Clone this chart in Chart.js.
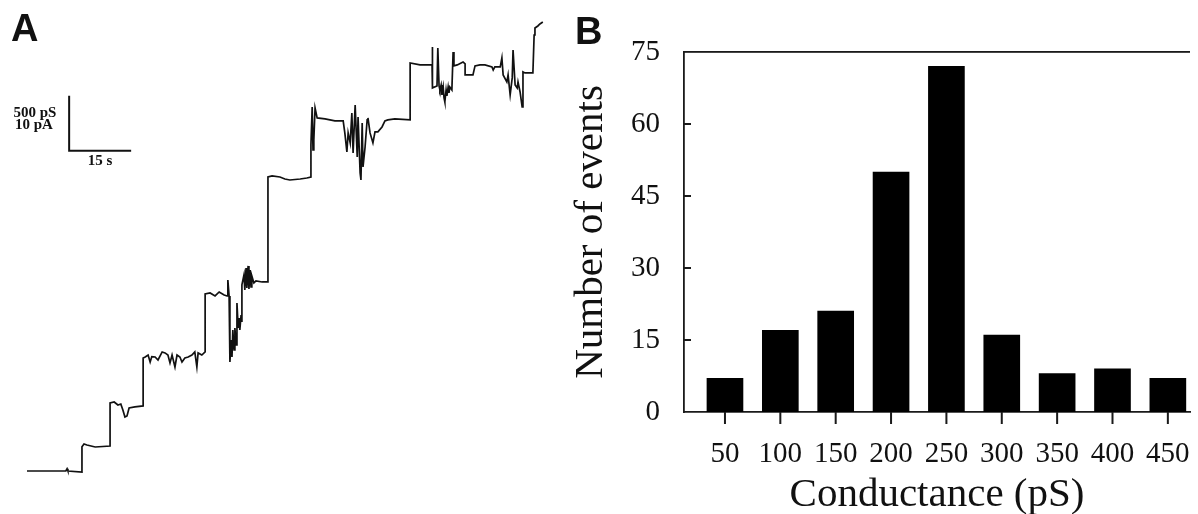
<!DOCTYPE html>
<html>
<head>
<meta charset="utf-8">
<script src="https://cdn.jsdelivr.net/npm/chart.js@4"></script>
<style>
  body { margin: 0; background: #fff; width: 1198px; height: 514px; position: relative; overflow: hidden; }
  canvas { position: absolute; top: 0; }
  #traceChart { left: 0; }
  #histChart { left: 560px; }
  .panel { position: absolute; font: bold 38px "Liberation Sans", Arial, sans-serif; line-height: 38px; color: #111; }
  .bar-label { position: absolute; font: bold 15px "Liberation Serif", serif; line-height: 15px; width: 60px; text-align: center; color: #111; }
</style>
</head>
<body>
<canvas id="traceChart" width="560" height="514"></canvas>
<canvas id="histChart" width="638" height="514"></canvas>
<div class="panel" style="left:11px;top:9px">A</div>
<div class="panel" style="left:575px;top:12px">B</div>
<div class="bar-label" style="left:5px;top:105px">500 pS</div>
<div class="bar-label" style="left:4px;top:117px">10 pA</div>
<div class="bar-label" style="left:70px;top:153px">15 s</div>

<script>
// Panel A: conductance trace (time in s, conductance in pS)
const traceTime = [
  0, 9.4, 9.7, 9.9, 13.3, 13.3, 13.8, 14.5, 16.5, 20.1, 20.1, 21.1, 22.0, 22.7, 23.2, 23.7, 24.2, 24.7, 26.1, 28.1,
  28.1, 28.6, 29.3, 29.8, 30.2, 31.0, 31.7, 32.7, 33.4, 34.1, 34.6, 35.1, 35.8, 36.3, 37.0, 37.5, 38.2, 39.0, 39.9, 40.6, 41.1, 41.4, 42.3, 43.1,
  43.1, 44.3, 45.5, 46.5, 47.7, 48.4, 48.6, 48.9, 49.1, 49.4, 49.6, 49.8, 50.1, 50.3, 50.6, 50.8, 51.1, 51.3, 51.5, 51.8, 52.0,
  52.0, 52.5, 52.7, 53.0, 53.2, 53.5, 53.7, 54.0, 54.2, 54.4, 54.9, 55.4, 56.9, 58.3,
  58.3, 59.3, 61.2, 62.4, 63.6, 66.1, 67.7, 68.7,
  68.7, 69.0, 69.2, 69.4, 69.7, 70.2, 72.1, 74.5, 76.5,
  76.9, 77.4, 77.7, 78.2, 78.6, 78.9, 79.4, 79.9, 80.1, 80.6, 80.8, 81.1, 81.3, 81.8, 82.3, 82.5, 83.0, 83.7, 84.2, 84.9, 85.9, 86.6, 87.3, 89.0, 92.7,
  92.7, 95.1, 98.0, 98.0, 98.2, 99.2, 99.4, 99.7, 99.9, 100.2, 100.4, 100.7, 100.9, 101.1, 101.4, 101.6, 101.9, 102.1, 102.3, 102.8,
  103.1, 103.3, 104.1, 105.5, 106.0, 106.0, 106.7, 107.9, 108.4, 109.6, 110.8, 112.5, 112.8, 113.2, 114.5,
  114.9, 115.2, 116.1, 116.4, 116.9, 117.4, 117.6, 118.1, 118.6, 118.8, 119.3, 119.8, 120.0, 120.5, 122.4,
  122.7, 122.9, 123.6, 124.1, 124.8
];
const traceCond = [
  0, 0, 20, 0, -10, 220, 245, 236, 218, 227, 618, 627, 600, 609, 554, 491, 500, 573, 582, 591,
  1027, 1036, 1054, 991, 1040, 1036, 1009, 1082, 1073, 1054, 982, 1054, 945, 1054, 1036, 991, 1027, 1036, 1054, 1082, 945, 1073, 1054, 1082,
  1609, 1618, 1591, 1627, 1600, 1591, 1736, 1591, 991, 1191, 1036, 1282, 1100, 1300, 1145, 1527, 1300, 1391, 1282, 1418, 1354,
  1691, 1782, 1645, 1845, 1664, 1864, 1654, 1827, 1673, 1773, 1709, 1727, 1718, 1718,
  2672, 2682, 2672, 2654, 2645, 2654, 2663, 2672,
  2963, 3309, 2918, 3009, 3300, 3209, 3200, 3182, 3182,
  3073, 2900, 3073, 2982, 3254, 2891, 3327, 2854, 3218, 2709, 2645, 3163, 2763, 2945, 3191, 3209, 3073, 2982, 3082, 3082, 3127, 3182, 3191, 3200, 3191,
  3709, 3691, 3691, 3854, 3482, 3500, 3845, 3500, 3464, 3509, 3418, 3491, 3391, 3354, 3464, 3409, 3491, 3436, 3491, 3464,
  3809, 3682, 3691, 3718, 3700, 3600, 3600, 3600, 3682, 3691, 3691, 3673, 3645, 3673, 3673,
  3754, 3600, 3536, 3600, 3418, 3573, 3827, 3509, 3482, 3536, 3445, 3309, 3627, 3618, 3618,
  3963, 4027, 4045, 4063, 4081
];
// scale bar: 15 s by 500 pS
const scaleBarTime = [10.2, 10.2, 25.2];
const scaleBarCond = [3410, 2910, 2910];

// Panel B: histogram
const conductanceBins = [50, 100, 150, 200, 250, 300, 350, 400, 450];
const eventCounts = [7, 17, 21, 50, 72, 16, 8, 9, 7];
const countTicks = [0, 15, 30, 45, 60, 75];

const toPoints = (xs, ys) => xs.map((x, i) => ({ x, y: ys[i] }));

new Chart(document.getElementById("traceChart"), {
  type: "line",
  data: {
    datasets: [
      { data: toPoints(traceTime, traceCond), borderColor: "#111", borderWidth: 1.7 },
      { data: toPoints(scaleBarTime, scaleBarCond), borderColor: "#111", borderWidth: 2 }
    ]
  },
  options: {
    responsive: false,
    animation: false,
    layout: { padding: 0 },
    elements: { point: { radius: 0 }, line: { tension: 0 } },
    plugins: { legend: { display: false }, tooltip: { enabled: false } },
    scales: {
      x: { type: "linear", display: false, min: -6.53, max: 128.96 },
      y: { type: "linear", display: false, min: -391, max: 4281 }
    }
  }
});

// top frame line, outward ticks on the x axis, short inward ticks on the count axis
const frameLines = {
  id: "frameLines",
  afterDraw(chart) {
    const { ctx, chartArea, scales } = chart;
    ctx.save();
    ctx.fillStyle = "#1a1a1a";
    ctx.fillRect(chartArea.left, chartArea.top - 1, chartArea.right - chartArea.left, 1.8);
    countTicks.forEach(v => {
      if (v === 0 || v === 75) return;
      const y = scales.y.getPixelForValue(v);
      ctx.fillRect(chartArea.left, y - 1, 7, 2);
    });
    conductanceBins.forEach(v => {
      const x = scales.x.getPixelForValue(v);
      ctx.fillRect(x - 1, chartArea.bottom, 2, 12);
    });
    ctx.restore();
  }
};

const serif = "'Liberation Serif', 'Times New Roman', serif";

new Chart(document.getElementById("histChart"), {
  type: "bar",
  data: {
    datasets: [{
      data: toPoints(conductanceBins, eventCounts),
      backgroundColor: "#000",
      barThickness: 36
    }]
  },
  options: {
    responsive: false,
    animation: false,
    layout: { padding: { left: 0, top: 52, right: 8, bottom: 0 } },
    plugins: { legend: { display: false }, tooltip: { enabled: false } },
    scales: {
      x: {
        type: "linear",
        offset: false,
        min: 13,
        max: 470,
        afterBuildTicks: s => { s.ticks = conductanceBins.map(v => ({ value: v })); },
        afterFit: s => { s.height = 102; },
        grid: { display: false, drawTicks: true, tickLength: 25 },
        border: { color: "#1a1a1a", width: 1.8 },
        ticks: { font: { family: serif, size: 29 }, color: "#111", padding: 0, autoSkip: false, maxRotation: 0 },
        title: { display: true, text: "Conductance (pS)", font: { family: serif, size: 41, lineHeight: 0.9 }, color: "#111", padding: 0 }
      },
      y: {
        min: 0,
        max: 75,
        afterBuildTicks: s => { s.ticks = countTicks.map(v => ({ value: v })); },
        afterFit: s => { s.width = 124; },
        grid: { display: false, drawTicks: false },
        border: { color: "#1a1a1a", width: 1.8 },
        ticks: { font: { family: serif, size: 29 }, color: "#111", padding: 24 },
        title: { display: true, text: "Number of events", font: { family: serif, size: 41, lineHeight: 1.2 }, color: "#111", padding: { top: 7, bottom: 0 } }
      }
    }
  },
  plugins: [frameLines]
});
</script>
</body>
</html>
